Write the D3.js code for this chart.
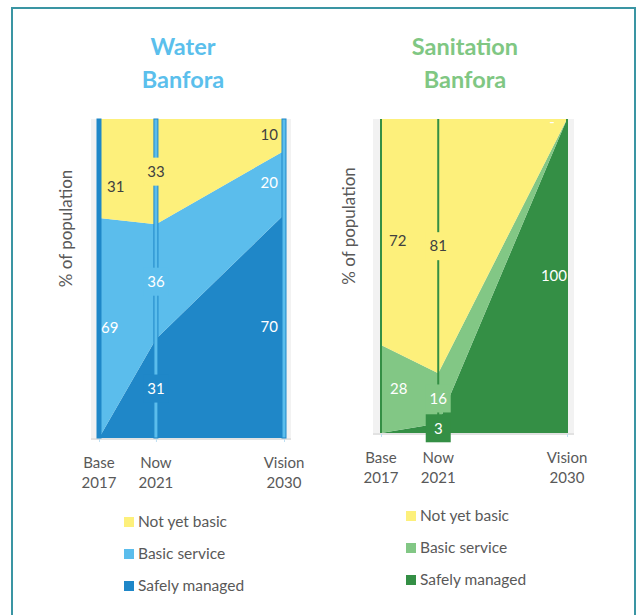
<!DOCTYPE html>
<html>
<head>
<meta charset="utf-8">
<script src="https://cdn.jsdelivr.net/npm/d3@7/dist/d3.min.js"></script>
<style>
  html, body { margin: 0; padding: 0; background: #ffffff; }
  svg { display: block; font-family: Lato, "Open Sans", sans-serif; }
</style>
</head>
<body>
<svg id="chart" width="636" height="615"></svg>
<script>
// ---------- data ----------
const years = [2017, 2021, 2030];
const tickTop = ["Base", "Now", "Vision"];
const tickBottom = ["2017", "2021", "2030"];
const seriesKeys = ["safely", "basic", "notyet"];
const seriesNames = ["Not yet basic", "Basic service", "Safely managed"];

const waterSafely = [0, 31, 70];
const waterBasic  = [69, 36, 20];
const waterNotYet = [31, 33, 10];

const sanSafely = [0, 3, 100];
const sanBasic  = [28, 16, 0];
const sanNotYet = [72, 81, 0];

// ---------- drawing ----------
const svg = d3.select("#chart");
const axisGray = "#595959";

// outer frame
svg.append("path")
  .attr("d", "M12,615 L12,8 L635,8 L635,615")
  .attr("fill", "none").attr("stroke", "#3a95a3").attr("stroke-width", 2);

function drawPanel(cfg) {
  const g = svg.append("g");
  const x = d3.scaleLinear().domain([years[0], years[years.length - 1]]).range([cfg.x0, cfg.x1]);
  const y = d3.scaleLinear().domain([0, 100]).range([cfg.yBottom, cfg.yTop]);

  const rows = years.map((yr, i) => ({ year: yr, safely: cfg.safely[i], basic: cfg.basic[i], notyet: cfg.notyet[i] }));
  const stack = d3.stack().keys(seriesKeys)(rows);

  // title
  cfg.title.forEach((t, i) => {
    g.append("text").attr("x", cfg.titleX).attr("y", 55 + i * 33)
      .attr("text-anchor", "middle").attr("font-size", 23.5).attr("font-weight", 700)
      .attr("fill", cfg.titleColor).text(t);
  });

  // plot background
  g.append("rect").attr("x", cfg.x0 - 8).attr("y", cfg.yTop)
    .attr("width", cfg.x1 - cfg.x0 + 15).attr("height", cfg.yBottom - cfg.yTop)
    .attr("fill", "#f2f2f2");

  // areas
  const area = d3.area().x(d => x(d.data.year)).y0(d => y(d[0])).y1(d => y(d[1]));
  g.selectAll(".area").data(stack).join("path")
    .attr("d", area).attr("fill", (d, i) => cfg.colors[i]);

  // axis
  const axis = d3.axisBottom(x).tickValues(years).tickSize(3).tickFormat("");
  const ax = g.append("g").attr("transform", `translate(0,${cfg.yBottom + 1})`).call(axis);
  ax.select(".domain").attr("d", `M${cfg.x0 - 8},0H${cfg.x1 + 7}`).attr("stroke", "#d9d9d9").attr("stroke-width", 1.5);
  ax.selectAll(".tick line").attr("stroke", "#bfdff2");
  years.forEach((yr, i) => {
    g.append("text").attr("x", x(yr)).attr("y", cfg.yBottom + 30)
      .attr("text-anchor", "middle").attr("font-size", 15).attr("fill", axisGray).text(tickTop[i]);
    g.append("text").attr("x", x(yr)).attr("y", cfg.yBottom + 50)
      .attr("text-anchor", "middle").attr("font-size", 15).attr("fill", axisGray).text(tickBottom[i]);
  });

  // y-axis title
  g.append("text")
    .attr("transform", `translate(${cfg.yTitleX},${(cfg.yTop + cfg.yBottom) / 2 - 50}) rotate(-90)`)
    .attr("text-anchor", "middle").attr("font-size", 17).attr("fill", axisGray)
    .text("% of population");

  // thin vertical bars at each year
  years.forEach((yr, i) => {
    cfg.drawBar(g, x(yr), y, i);
  });

  // data labels
  stack.forEach((s, si) => {
    s.forEach((d, i) => {
      const v = d[1] - d[0];
      let txt = String(v);
      if (v === 0) {
        if (!(cfg.zeroDash && cfg.zeroDash.key === s.key && cfg.zeroDash.index === i)) return;
        txt = "-";
      }
      const cx = x(d.data.year);
      let ly = y((d[0] + d[1]) / 2);
      if (cfg.nudge && cfg.nudge[s.key + i]) ly += cfg.nudge[s.key + i];
      let anchor = "middle", lx = cx;
      if (i === 0) { anchor = "start"; lx = cx + (si === 2 ? 8 : cfg.baseOffset); }
      if (i === years.length - 1) { anchor = "end"; lx = cx - cfg.endOffset; }
      if (txt === "-") { anchor = "middle"; lx = cx - 15; ly = y(d[1]) + 3; }
      const col = si === 2 ? "#404040" : "#ffffff";
      if (i === 1) {
        const w = Math.max(25, txt.length * 8 + 8);
        const bh = 28;
        g.append("rect").attr("x", lx - w / 2).attr("y", ly - bh / 2)
          .attr("width", w).attr("height", bh).attr("fill", cfg.colors[si]);
      }
      g.append("text").attr("x", lx).attr("y", ly).attr("dy", "0.35em")
        .attr("text-anchor", anchor).attr("font-size", 15).attr("fill", col).text(txt);
    });
  });

  // legend
  const legendOrder = [2, 1, 0];
  legendOrder.forEach((si, k) => {
    const ly = cfg.legendY + k * 32;
    g.append("rect").attr("x", cfg.legendX).attr("y", ly - 5).attr("width", 10).attr("height", 10)
      .attr("fill", cfg.colors[si]);
    g.append("text").attr("x", cfg.legendX + 14).attr("y", ly).attr("dy", "0.35em")
      .attr("font-size", 15.5).attr("fill", axisGray).text(seriesNames[k]);
  });
}

const waterColors = ["#1f87c8", "#5bbdec", "#fdf07b"];
drawPanel({
  title: ["Water", "Banfora"], titleX: 183, titleColor: "#5bbfec",
  x0: 99, x1: 284, yTop: 119, yBottom: 438, yTitleX: 72,
  safely: waterSafely, basic: waterBasic, notyet: waterNotYet,
  colors: waterColors, baseOffset: 2, endOffset: 6,
  nudge: { notyet0: 18 },
  legendX: 124, legendY: 522,
  drawBar: (g, bx, y, i) => {
    g.append("rect").attr("x", bx - 2).attr("y", y(100)).attr("width", 4).attr("height", y(0) - y(100))
      .attr("fill", i === 0 ? waterColors[0] : waterColors[1])
      .attr("stroke", waterColors[0]).attr("stroke-width", 1);
  }
});

const sanColors = ["#348f45", "#82c785", "#fdf07b"];
drawPanel({
  title: ["Sanitation", "Banfora"], titleX: 465, titleColor: "#80c783",
  x0: 381, x1: 567, yTop: 119, yBottom: 433, yTitleX: 355,
  safely: sanSafely, basic: sanBasic, notyet: sanNotYet,
  colors: sanColors, baseOffset: 9, endOffset: 0,
  nudge: { notyet0: 9 },
  zeroDash: { key: "basic", index: 2 },
  legendX: 406, legendY: 516,
  drawBar: (g, bx, y, i) => {
    g.append("rect").attr("x", bx - 1).attr("y", y(100)).attr("width", 2).attr("height", y(0) - y(100))
      .attr("fill", sanColors[0]);
  }
});
</script>
</body>
</html>
